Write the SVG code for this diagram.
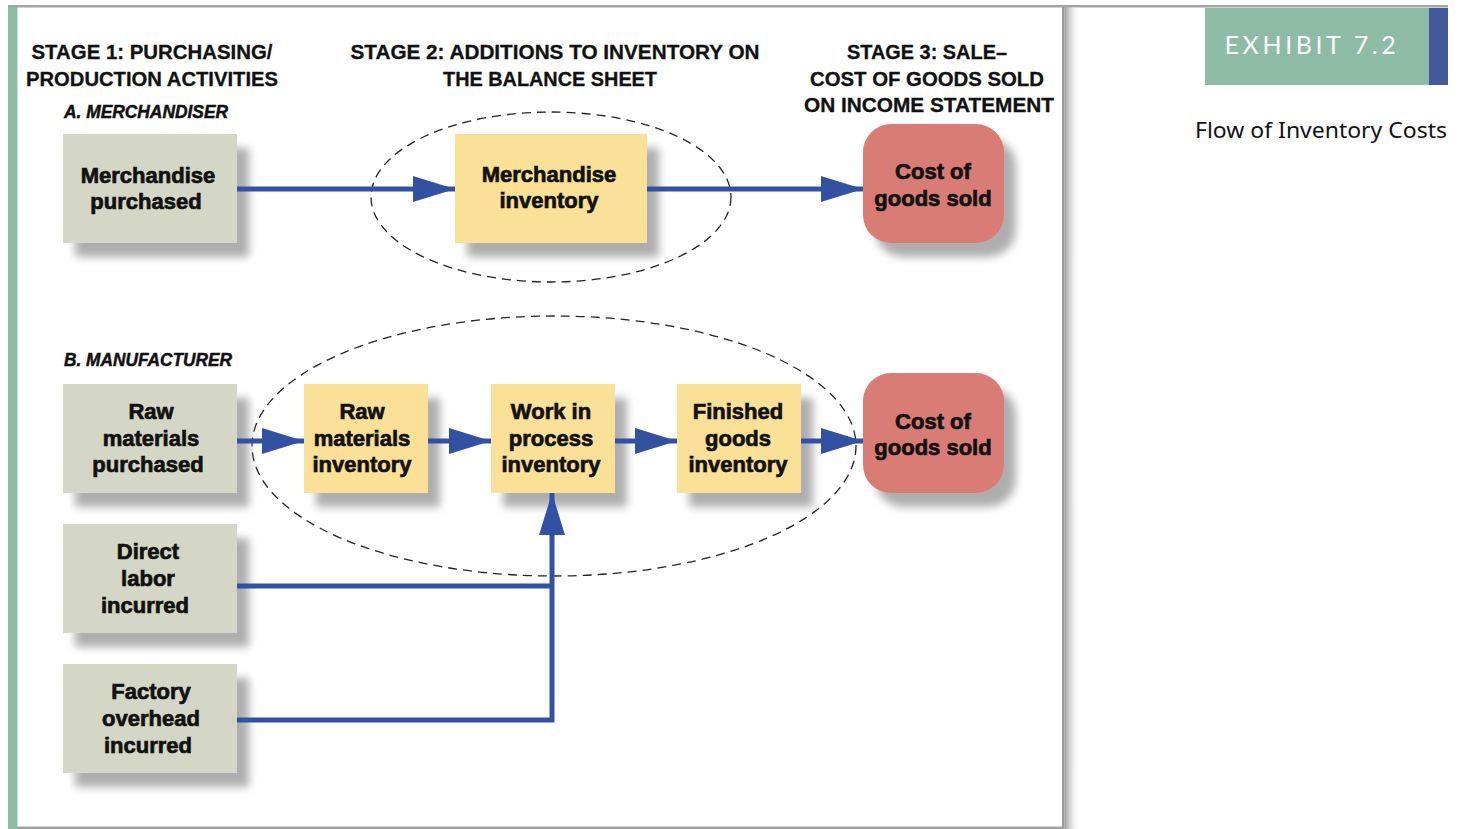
<svg xmlns="http://www.w3.org/2000/svg" width="1463" height="829" viewBox="0 0 1463 829">
<defs>
<style>
.hd{font-family:"Liberation Sans",Arial,sans-serif;font-weight:bold;font-size:20px;fill:#111;stroke:#111;stroke-width:0.3;text-anchor:middle}
.sub{font-family:"Liberation Sans",Arial,sans-serif;font-weight:bold;font-style:italic;font-size:19px;fill:#111;stroke:#111;stroke-width:0.5}
.nt{font-family:"Liberation Sans",Arial,sans-serif;font-weight:bold;font-size:22px;fill:#111;stroke:#111;stroke-width:0.7;text-anchor:middle}
.gbox{fill:#d5d7c6}
.ybox{fill:#fbe098}
.rbox{fill:#d97c74}
.sh{filter:url(#ds)}
.con{fill:none;stroke:#3351a3;stroke-width:5}
.ell{fill:none;stroke:#222;stroke-width:1.3;stroke-dasharray:9 6}
</style>
<filter id="ds" x="-20%" y="-20%" width="150%" height="160%">
<feDropShadow dx="12" dy="14" stdDeviation="4" flood-color="#9a9a9a" flood-opacity="0.8"/>
</filter>
<linearGradient id="rsh" x1="0" y1="0" x2="1" y2="0">
<stop offset="0" stop-color="#9d9d9d"/>
<stop offset="1" stop-color="#ffffff" stop-opacity="0"/>
</linearGradient>
<marker id="ah" markerUnits="userSpaceOnUse" markerWidth="42" markerHeight="26" refX="42" refY="13" orient="auto">
<path d="M0,0 L42,13 L0,26 z" fill="#3351a3"/>
</marker>
</defs>
<rect width="1463" height="829" fill="#fff"/>
<g id="frame">
<rect x="8" y="5" width="1440" height="2.5" fill="#a3a3a3"/>
<rect x="8" y="7" width="9.5" height="822" fill="#8dbba5"/>
<rect x="1062" y="7" width="2.5" height="822" fill="#999"/>
<rect x="1064.5" y="7" width="16" height="822" fill="url(#rsh)"/>
<rect x="17" y="826.5" width="1047" height="2.5" fill="#a3a3a3"/>
</g>
<g id="exhibit">
<rect x="1205" y="8" width="224" height="77" fill="#8dbba5"/>
<rect x="1429" y="8" width="19" height="77" fill="#44599a"/>
<text x="1312" y="54" font-family="Lato,'Open Sans',sans-serif" font-size="25" fill="#fff" text-anchor="middle" letter-spacing="3.6">EXHIBIT 7.2</text>
<text x="1447" y="138" font-family="'Noto Sans','Open Sans',sans-serif" font-size="22" fill="#111" text-anchor="end" textLength="252" lengthAdjust="spacingAndGlyphs">Flow of Inventory Costs</text>
</g>
<g id="headings">
<text class="hd" x="152" y="59" textLength="241" lengthAdjust="spacingAndGlyphs">STAGE 1: PURCHASING/</text>
<text class="hd" x="152" y="86" textLength="252" lengthAdjust="spacingAndGlyphs">PRODUCTION ACTIVITIES</text>
<text class="hd" x="555" y="59" textLength="409" lengthAdjust="spacingAndGlyphs">STAGE 2: ADDITIONS TO INVENTORY ON</text>
<text class="hd" x="550" y="86" textLength="214" lengthAdjust="spacingAndGlyphs">THE BALANCE SHEET</text>
<text class="hd" x="927" y="59" textLength="160" lengthAdjust="spacingAndGlyphs">STAGE 3: SALE–</text>
<text class="hd" x="927" y="86" textLength="234" lengthAdjust="spacingAndGlyphs">COST OF GOODS SOLD</text>
<text class="hd" x="929" y="112" textLength="250" lengthAdjust="spacingAndGlyphs">ON INCOME STATEMENT</text>
<text class="sub" x="64" y="118" textLength="164" lengthAdjust="spacingAndGlyphs">A. MERCHANDISER</text>
<text class="sub" x="64" y="366" textLength="168" lengthAdjust="spacingAndGlyphs">B. MANUFACTURER</text>
</g>
<g id="ellipses">
<ellipse class="ell" cx="551" cy="197" rx="180" ry="85"/>
<ellipse class="ell" cx="554" cy="446" rx="302" ry="130"/>
</g>
<g id="merch-purchased">
<rect class="gbox sh" x="63" y="134" width="174" height="109"/>
<text class="nt" x="148" y="183">Merchandise</text>
<text class="nt" x="146" y="209">purchased</text>
</g>
<g id="merch-inventory">
<rect class="ybox sh" x="455" y="134" width="192" height="109"/>
<text class="nt" x="549" y="182">Merchandise</text>
<text class="nt" x="549" y="208">inventory</text>
</g>
<g id="cogs-1">
<rect class="rbox sh" x="863" y="124" width="141" height="119" rx="28"/>
<text class="nt" x="933" y="179">Cost of</text>
<text class="nt" x="933" y="206">goods sold</text>
</g>
<g id="raw-purchased">
<rect class="gbox sh" x="63" y="384" width="174" height="109"/>
<text class="nt" x="151" y="419">Raw</text>
<text class="nt" x="151" y="446">materials</text>
<text class="nt" x="148" y="472">purchased</text>
</g>
<g id="raw-inventory">
<rect class="ybox sh" x="304" y="384" width="124" height="109"/>
<text class="nt" x="362" y="419">Raw</text>
<text class="nt" x="362" y="446">materials</text>
<text class="nt" x="362" y="472">inventory</text>
</g>
<g id="wip-inventory">
<rect class="ybox sh" x="491" y="384" width="124" height="109"/>
<text class="nt" x="551" y="419">Work in</text>
<text class="nt" x="551" y="446">process</text>
<text class="nt" x="551" y="472">inventory</text>
</g>
<g id="finished-inventory">
<rect class="ybox sh" x="677" y="384" width="124" height="109"/>
<text class="nt" x="738" y="419">Finished</text>
<text class="nt" x="738" y="446">goods</text>
<text class="nt" x="738" y="472">inventory</text>
</g>
<g id="cogs-2">
<rect class="rbox sh" x="863" y="373" width="141" height="120" rx="28"/>
<text class="nt" x="933" y="429">Cost of</text>
<text class="nt" x="933" y="455">goods sold</text>
</g>
<g id="direct-labor">
<rect class="gbox sh" x="63" y="524" width="174" height="109"/>
<text class="nt" x="148" y="559">Direct</text>
<text class="nt" x="148" y="586">labor</text>
<text class="nt" x="145" y="613">incurred</text>
</g>
<g id="factory-overhead">
<rect class="gbox sh" x="63" y="664" width="174" height="109"/>
<text class="nt" x="151" y="699">Factory</text>
<text class="nt" x="151" y="726">overhead</text>
<text class="nt" x="148" y="753">incurred</text>
</g>
<g id="connectors">
<path class="con" d="M237,189 H455" marker-end="url(#ah)"/>
<path class="con" d="M647,189 H863" marker-end="url(#ah)"/>
<path class="con" d="M237,441 H304" marker-end="url(#ah)"/>
<path class="con" d="M428,441 H491" marker-end="url(#ah)"/>
<path class="con" d="M615,441 H677" marker-end="url(#ah)"/>
<path class="con" d="M801,441 H863" marker-end="url(#ah)"/>
<path class="con" d="M237,586 H552"/>
<path class="con" d="M237,720 H552 V493" marker-end="url(#ah)"/>
</g>
</svg>
